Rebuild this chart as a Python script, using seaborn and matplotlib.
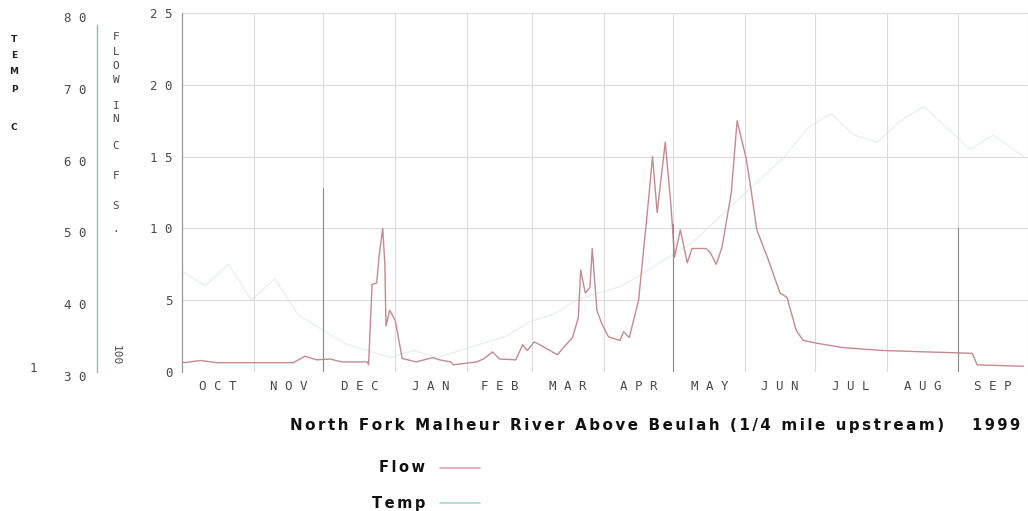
import matplotlib
matplotlib.use("Agg")
import matplotlib.pyplot as plt
import matplotlib.transforms as mtransforms
import seaborn as sns
import pandas as pd

# water year 1999, days counted from Oct 1
months = ["OCT", "NOV", "DEC", "JAN", "FEB", "MAR", "APR", "MAY", "JUN", "JUL", "AUG", "SEP"]
month_start = [0, 31, 61, 92, 123, 151, 182, 212, 243, 273, 304, 335, 365]

flow_day = [0, 1, 8, 15, 48, 53, 58, 64, 69, 80, 80.5, 82, 84, 85, 86.6, 87.5, 88, 89.6, 92, 95,
            101, 108, 111, 116, 117, 127, 130, 134, 137, 144, 147, 149, 152, 156, 162, 164, 168.5,
            171, 172, 174, 176, 177, 179, 181, 184, 189, 190.5, 193, 197, 201, 203, 205, 208.5,
            211, 212.5, 215, 218, 220, 226, 228, 230.5, 233, 237, 239.5, 243.5, 245.5, 248, 253,
            258, 261, 265, 268, 274, 285, 302, 321, 341, 343, 363]
flow = [0.7, 0.65, 0.8, 0.65, 0.65, 1.1, 0.85, 0.9, 0.7, 0.7, 0.5, 6.1, 6.2, 8.0, 10.0, 7.6, 3.2,
        4.3, 3.6, 0.95, 0.7, 1.0, 0.85, 0.7, 0.5, 0.7, 0.9, 1.4, 0.9, 0.85, 1.9, 1.5, 2.1, 1.75,
        1.2, 1.6, 2.4, 3.8, 7.1, 5.5, 5.9, 8.6, 4.3, 3.4, 2.45, 2.2, 2.8, 2.4, 5.0, 11.5, 15.0,
        11.1, 16.0, 11.5, 8.0, 9.9, 7.6, 8.6, 8.6, 8.3, 7.5, 8.7, 12.5, 17.5, 14.8, 12.7, 9.9,
        7.8, 5.5, 5.2, 2.9, 2.2, 2.0, 1.7, 1.5, 1.4, 1.3, 0.5, 0.4]

temp_day = [0, 10, 20, 30, 40, 50, 60, 70, 80, 90, 100, 110, 120, 130, 140, 150, 160, 170, 180,
            190, 200, 210, 220, 230, 240, 250, 260, 270, 280, 290, 300, 310, 320, 330, 340, 350, 363]
temp = [44, 42, 45, 40, 43, 38, 36, 34, 33, 32, 33, 32, 33, 34, 35, 37, 38, 40, 41, 42, 44, 46,
        48, 51, 54, 57, 60, 64, 66, 63, 62, 65, 67, 64, 61, 63, 60]

flow_ticks = [0, 5, 10, 15, 20, 25]
temp_ticks = [30, 40, 50, 60, 70, 80]

title = "North Fork Malheur River Above Beulah (1/4 mile upstream)"
year = "1999"

sns.set_style("white")
mono = "DejaVu Sans Mono"
txtc = "#4a4a4a"
flow_col = "#c58a90"
temp_col = "#e6f2ef"
gridc = "#dcdcdc"
PT = 72 / 100  # pixels -> points


def spaced(s):
    # wide lettering of the original: six-per-em space between letters
    return "  ".join("\u2006".join(w) for w in s.split(" "))


df_f = pd.DataFrame({"day": flow_day, "flow": flow})
df_t = pd.DataFrame({"day": temp_day, "temp": temp})

fig = plt.figure(figsize=(10.28, 5.11), dpi=100)
ax = fig.add_axes([182/1028, 139/511, 846/1028, 359/511])
down = mtransforms.ScaledTranslation(0, -4/100, fig.dpi_scale_trans)

# temperature on its own scale, axis drawn on the far left
ax2 = ax.twinx()
sns.lineplot(data=df_t, x="day", y="temp", ax=ax2, color=temp_col, lw=1)
ax2.set_ylim(30, 80)
ax2.yaxis.set_ticks_position("left")
ax2.yaxis.set_label_position("left")
ax2.spines["left"].set_position(("outward", 85 * PT))
ax2.spines["left"].set_bounds(30, 78.3)
ax2.spines["left"].set_color("#9fb3b0")
ax2.spines["left"].set_linewidth(1)
for s in ["top", "right", "bottom"]:
    ax2.spines[s].set_visible(False)
ax2.set_yticks(temp_ticks)
ax2.set_yticklabels([" ".join(str(t)) for t in temp_ticks], family=mono, fontsize=9, color=txtc)
ax2.tick_params(axis="y", length=0, pad=11 * PT)
ax2.set_ylabel("")
ax2.set_xlabel("")

sns.lineplot(data=df_f, x="day", y="flow", ax=ax, color=flow_col, lw=1)
ax.set_zorder(ax2.get_zorder() + 1)
ax.patch.set_visible(False)
ax.set_xlim(0, 363)
ax.set_ylim(0, 25)

ax.set_yticks(flow_ticks)
ax.set_yticklabels([" ".join(str(t)) for t in flow_ticks], family=mono, fontsize=9, color=txtc)
for lab in ax.get_yticklabels() + ax2.get_yticklabels():
    lab.set_transform(lab.get_transform() + down)
ax.set_xticks(month_start)
ax.set_xticklabels([])
ax.tick_params(length=0)
ax.tick_params(axis="y", pad=9 * PT)
ax.grid(True, color=gridc, lw=0.8)
for m0, m1, name in zip(month_start[:-1], month_start[1:], months):
    ax.text((m0 + m1) / 2, -0.55, " ".join(name), ha="center", va="top", family=mono,
            fontsize=9, color=txtc, transform=ax.transData)
# darker lower parts of a few month lines
for d, top in [(61, 12.8), (212, 10.3), (335, 10.0)]:
    ax.plot([d, d], [-0.3, top], color="#8a8a8a", lw=0.8)
for s in ["top", "right", "bottom"]:
    ax.spines[s].set_visible(False)
ax.spines["left"].set_color("#9a9a9a")
ax.spines["left"].set_linewidth(0.9)
ax.set_xlabel("")
ax.set_ylabel("")

# stacked axis captions on the left
for ch, y in zip("TEMP", [40, 56, 72, 89]):
    fig.text(14/1028, 1 - y/511, ch, ha="center", va="center", fontsize=6.5,
             fontweight="bold", color="#222")
fig.text(14/1028, 1 - 127/511, "C", ha="center", va="center", fontsize=6.5,
         fontweight="bold", color="#222")
for ch, y in zip(["F", "L", "O", "W", "I", "N", "C", "F", "S", "·"],
                 [37, 52, 66, 80, 106, 119, 146, 176, 206, 232]):
    fig.text(116/1028, 1 - y/511, ch, ha="center", va="center", family=mono,
             fontsize=8, color=txtc)
fig.text(116/1028, 1 - 355/511, "100", ha="center", va="center", family=mono,
         fontsize=8, color=txtc, rotation=270)
fig.text(33/1028, 1 - 368/511, "1", ha="center", va="center", family=mono,
         fontsize=9, color=txtc)

# title line under the axis
fig.text(290/1028, 1 - 425/511, spaced(title), ha="left", va="center", fontsize=10.9,
         fontweight="heavy", color="#111")
fig.text(1020/1028, 1 - 425/511, spaced(year), ha="right", va="center", fontsize=10.5,
         fontweight="heavy", color="#111")

# hand-made legend
fig.text(425/1028, 1 - 467/511, spaced("Flow"), ha="right", va="center", fontsize=10.5,
         fontweight="heavy", color="#111")
fig.add_artist(plt.Line2D([440/1028, 480/1028], [1 - 468/511, 1 - 468/511],
                          color="#e2a3b4", lw=1.2))
fig.text(425/1028, 1 - 503/511, spaced("Temp"), ha="right", va="center", fontsize=10.5,
         fontweight="heavy", color="#111")
fig.add_artist(plt.Line2D([440/1028, 480/1028], [1 - 503/511, 1 - 503/511],
                          color="#a9d5cc", lw=1.2))

fig.savefig("out.png", dpi=100)
